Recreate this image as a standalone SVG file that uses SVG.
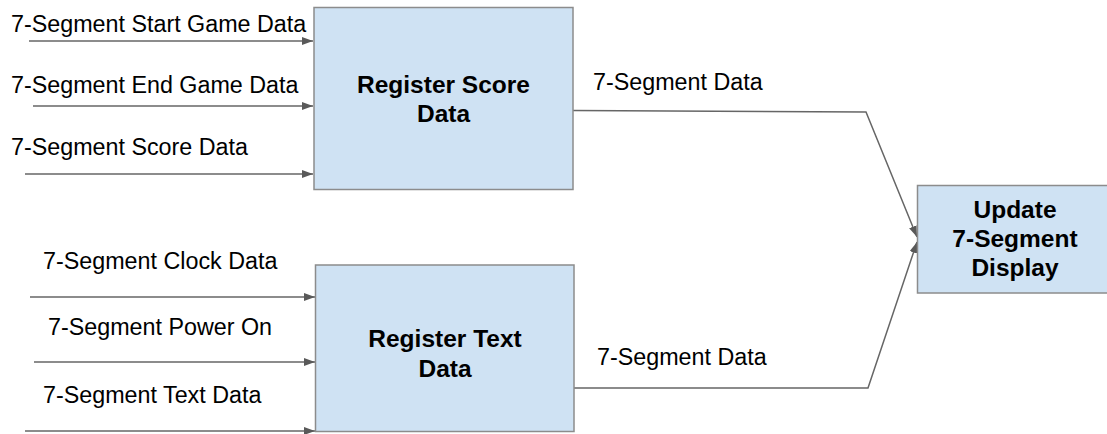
<svg xmlns="http://www.w3.org/2000/svg" width="1107" height="434" viewBox="0 0 1107 434">
<defs>
<marker id="ah" markerUnits="userSpaceOnUse" markerWidth="12" markerHeight="9" refX="11" refY="4" orient="auto">
<path d="M0,0 L11,4 L0,8 z" fill="#595959"/>
</marker>
<style>
.box{fill:#cfe2f3;stroke:#8c8c8c;stroke-width:1.5}
.lbl{font-family:"Liberation Sans",Arial,sans-serif;font-size:23.3px;fill:#000}
.bold{font-family:"Liberation Sans",Arial,sans-serif;font-size:24.5px;font-weight:bold;fill:#000;text-anchor:middle}
.conn{fill:none;stroke:#666;stroke-width:1.5}
</style>
</defs>
<rect width="1107" height="434" fill="#fff"/>
<g id="connectors">
<path class="conn" d="M29,41 H313" marker-end="url(#ah)"/>
<path class="conn" d="M33,106 H313" marker-end="url(#ah)"/>
<path class="conn" d="M25,174 H313" marker-end="url(#ah)"/>
<path class="conn" d="M30,297 H315" marker-end="url(#ah)"/>
<path class="conn" d="M34,362 H315" marker-end="url(#ah)"/>
<path class="conn" d="M25,431 H315" marker-end="url(#ah)"/>
<path class="conn" d="M573,110.5 L866,112 L917,237" marker-end="url(#ah)"/>
<path class="conn" d="M574,388 L868,388 L917,242" marker-end="url(#ah)"/>
</g>
<g id="input-labels">
<text class="lbl" x="11" y="31.5">7-Segment Start Game Data</text>
<text class="lbl" x="11" y="92.5">7-Segment End Game Data</text>
<text class="lbl" x="11" y="155">7-Segment Score Data</text>
<text class="lbl" x="43" y="269">7-Segment Clock Data</text>
<text class="lbl" x="48" y="335">7-Segment Power On</text>
<text class="lbl" x="43" y="403">7-Segment Text Data</text>
<text class="lbl" x="593" y="90">7-Segment Data</text>
<text class="lbl" x="597" y="365">7-Segment Data</text>
</g>
<g id="register-score">
<rect class="box" x="314" y="7.5" width="259" height="182"/>
<text class="bold" x="443.5" y="92.5">Register Score</text>
<text class="bold" x="443.5" y="121.5">Data</text>
</g>
<g id="register-text">
<rect class="box" x="315.5" y="265" width="258.5" height="166.5"/>
<text class="bold" x="445" y="347">Register Text</text>
<text class="bold" x="445" y="376.5">Data</text>
</g>
<g id="update-display">
<rect class="box" x="917.5" y="185.5" width="196" height="107.5"/>
<text class="bold" x="1015" y="218">Update</text>
<text class="bold" x="1015" y="247">7-Segment</text>
<text class="bold" x="1015" y="276">Display</text>
</g>
</svg>
